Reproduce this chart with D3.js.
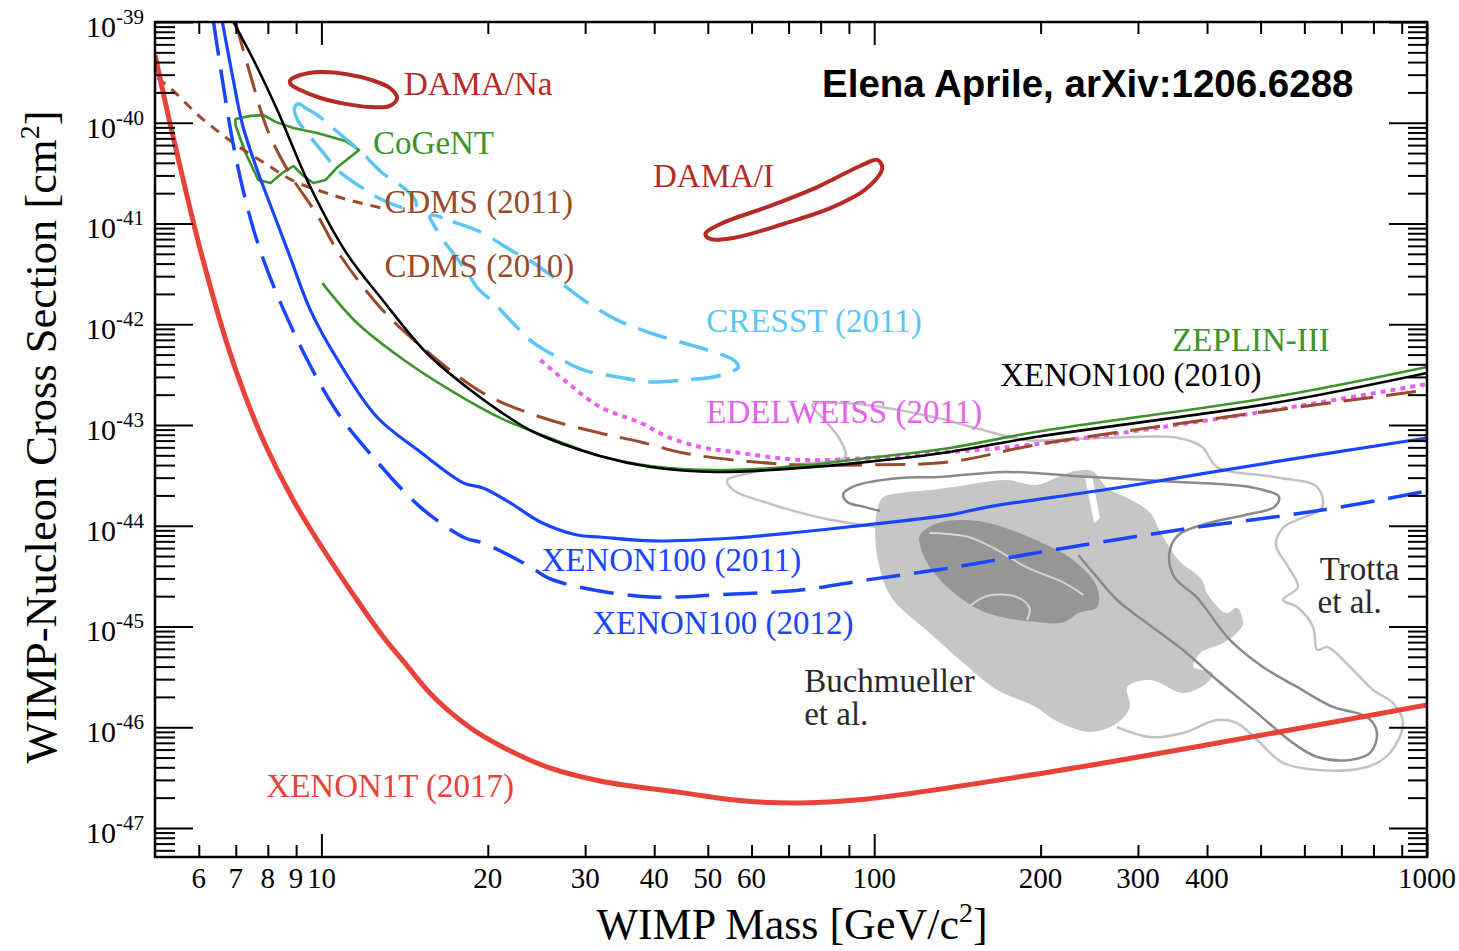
<!DOCTYPE html>
<html><head><meta charset="utf-8">
<script src="https://cdn.jsdelivr.net/npm/d3@7"></script>
<style>body{margin:0;background:#fff}svg{display:block}</style>
</head><body>
<svg id="c" width="1459" height="951"></svg>
<script>
// ---------- data: [WIMP mass (GeV), cross section (cm^2)] ----------
const xenon1t2017 = [[5.0,4.70e-40],[5.33,9.50e-41],[5.68,2.15e-41],[6.04,5.46e-42],[6.76,6.22e-43],[7.29,1.90e-43],[7.92,6.33e-44],[8.79,2.02e-44],[9.55,9.29e-45],[11.6,1.83e-45],[12.9,8.05e-46],[14.1,4.45e-46],[15.9,2.04e-46],[18.4,1.03e-46],[21.1,6.52e-47],[25.9,3.94e-47],[31.9,2.93e-47],[45.2,2.23e-47],[58.4,1.85e-47],[73.5,1.77e-47],[97.1,1.94e-47],[208,3.60e-47],[448,7.46e-47],[1000,1.66e-46]];
const xenon100_2011 = [[6.62,1.00e-39],[6.90,2.98e-40],[7.20,9.50e-41],[7.63,3.56e-41],[8.15,1.36e-41],[8.79,4.55e-42],[9.55,1.38e-42],[10.7,4.42e-43],[12.6,1.20e-43],[15.1,5.40e-44],[18.1,2.65e-44],[19.6,2.37e-44],[22.0,1.68e-44],[24.9,1.09e-44],[29.0,8.09e-45],[31.9,7.73e-45],[39.8,7.06e-45],[55.6,7.55e-45],[73.5,8.67e-45],[97.1,1.02e-44],[137,1.28e-44],[160,1.53e-44],[274,2.37e-44],[529,4.30e-44],[1000,7.43e-44]];
const xenon100_2012 = [[6.38,1.00e-39],[6.62,2.66e-40],[6.93,6.01e-41],[7.29,1.71e-41],[7.69,6.12e-42],[8.32,1.95e-42],[9.43,4.42e-43],[10.7,1.32e-43],[12.4,4.81e-44],[15.1,1.53e-44],[18.2,7.55e-45],[19.6,6.74e-45],[23.9,3.90e-45],[25.7,3.03e-45],[29.8,2.41e-45],[39.4,1.96e-45],[52.0,2.06e-45],[73.5,2.30e-45],[97.1,2.90e-45],[137,3.81e-45],[196,5.37e-45],[355,9.08e-45],[646,1.43e-44],[1000,2.21e-44]];
const xenon100_2010 = [[6.93,1.00e-39],[7.60,3.83e-40],[8.32,1.34e-40],[9.55,2.30e-41],[11.1,5.09e-42],[12.9,1.74e-42],[15.5,5.18e-43],[18.6,2.22e-43],[21.1,1.35e-43],[24.2,8.52e-44],[31.9,4.92e-44],[39.4,3.83e-44],[52.0,3.42e-44],[73.5,3.74e-44],[97.1,4.30e-44],[137,5.40e-44],[196,7.60e-44],[529,1.65e-43],[1000,3.28e-43]];
const zeplin3 = [[10.04,2.56e-42],[11.6,1.03e-42],[14.1,4.42e-43],[17.1,2.22e-43],[21.1,1.17e-43],[25.9,7.43e-44],[31.9,4.92e-44],[39.4,3.92e-44],[52.0,3.57e-44],[73.5,3.92e-44],[97.1,4.70e-44],[137,5.92e-44],[196,8.52e-44],[529,1.90e-43],[1000,3.77e-43]];
const cdms2010 = [[6.99,1.00e-39],[7.44,2.98e-40],[7.99,8.47e-41],[8.79,3.03e-41],[9.83,1.21e-41],[10.8,4.87e-42],[12.8,1.45e-42],[14.9,6.52e-43],[19.6,2.08e-43],[24.9,1.20e-43],[31.9,8.33e-44],[37.8,6.78e-44],[45.2,5.27e-44],[55.6,4.50e-44],[73.5,4.01e-44],[97.1,4.01e-44],[137,4.30e-44],[196,6.34e-44],[433,1.20e-43],[1000,2.22e-43]];
const cdms2011 = [[5.05,2.78e-40],[5.33,2.21e-40],[6.04,1.14e-40],[6.93,6.30e-41],[7.99,3.81e-41],[8.90,2.64e-41],[9.96,2.10e-41],[11.05,1.75e-41],[12.8,1.43e-41]];
const edelweiss2011 = [[24.9,4.42e-43],[27.9,2.61e-43],[31.9,1.51e-43],[37.8,1.05e-43],[42.3,7.60e-44],[48.5,6.05e-44],[55.6,5.40e-44],[73.5,4.50e-44],[97.1,4.70e-44],[127.9,5.27e-44],[169,5.92e-44],[256,7.78e-44],[529,1.41e-43],[1000,2.55e-43]];
const cogent = [[6.99,1.09e-40],[7.44,1.17e-40],[7.86,1.19e-40],[8.26,1.02e-40],[8.90,8.87e-41],[9.83,7.91e-41],[11.05,6.59e-41],[11.7,5.36e-41],[10.7,3.64e-41],[10.17,2.70e-41],[9.67,2.52e-41],[9.28,2.96e-41],[8.90,3.72e-41],[8.54,3.24e-41],[8.09,2.52e-41],[7.69,2.70e-41],[7.29,5.01e-41],[6.99,9.50e-41]];
const damaNa = [[8.79,2.66e-40],[9.16,2.98e-40],[9.96,3.19e-40],[11.05,3.05e-40],[12.3,2.66e-40],[13.3,2.21e-40],[13.7,1.76e-40],[13.3,1.47e-40],[12.3,1.43e-40],[11.05,1.54e-40],[9.96,1.76e-40],[9.16,2.11e-40],[8.79,2.42e-40]];
const damaI = [[49.5,7.87e-42],[52.7,9.89e-42],[64.1,1.46e-41],[78.9,2.30e-41],[94.3,3.72e-41],[101.3,4.27e-41],[103.4,3.56e-41],[97.1,2.25e-41],[84.3,1.46e-41],[68.5,9.89e-42],[55.6,7.18e-42],[50.5,7.02e-42]];
const cresstLow = [[8.94,1.40e-40],[9.09,1.54e-40],[9.36,1.40e-40],[9.88,1.17e-40],[10.7,8.09e-41],[11.8,5.13e-41],[12.9,3.17e-41],[14.1,2.25e-41],[14.7,1.79e-41],[14.85,1.53e-41],[14.2,1.43e-41],[12.8,1.75e-41],[11.8,2.30e-41],[10.8,3.24e-41],[10.08,5.01e-41],[9.43,7.91e-41],[9.05,1.07e-40]];
const cresstHigh = [[15.9,1.21e-41],[17.3,1.04e-41],[19.4,8.23e-42],[22.0,5.46e-42],[24.2,4.06e-42],[26.7,2.75e-42],[29.8,1.74e-42],[34.3,1.10e-42],[39.4,8.18e-43],[45.2,6.52e-43],[49.9,5.55e-43],[55.6,4.42e-43],[56.8,3.77e-43],[55.6,3.44e-43],[51.2,3.00e-43],[45.2,2.80e-43],[39.4,2.67e-43],[34.3,3.00e-43],[29.8,3.52e-43],[25.9,5.18e-43],[24.2,6.52e-43],[22.2,1.03e-42],[20.5,1.63e-42],[19.1,2.34e-42],[18.4,3.23e-42],[17.3,5.09e-42],[16.6,6.86e-42],[15.9,1.01e-41],[15.7,1.16e-41]];
const buchmueller95 = [[100.4,9.72e-45],[101.3,1.43e-44],[103.4,1.89e-44],[111.4,2.11e-44],[126,2.26e-44],[143,2.48e-44],[173,2.84e-44],[196,2.54e-44],[217,3.12e-44],[231,3.49e-44],[248,3.49e-44],[264,2.37e-44],[292,1.80e-44],[316,1.34e-44],[328,9.08e-45],[342,6.15e-45],[355,4.57e-45],[392,2.89e-45],[400,2.15e-45],[433,1.36e-45],[453,1.53e-45],[465,1.08e-45],[453,8.62e-46],[428,6.86e-46],[389,5.46e-46],[378,3.96e-46],[410,3.46e-46],[400,2.75e-46],[362,2.19e-46],[316,2.94e-46],[287,2.51e-46],[290,1.59e-46],[275,1.10e-46],[246,8.97e-47],[212,1.18e-46],[196,1.59e-46],[167,2.34e-46],[145,4.35e-46],[126,8.62e-46],[107.3,1.96e-45],[101.3,4.90e-45]];
const buchmuellerGap = [[240.8,2.98e-44],[248,3.12e-44],[256,1.19e-44],[250,1.06e-44]];
const buchmueller68 = [[121,8.09e-45],[129,1.04e-44],[143,1.14e-44],[162,1.06e-44],[196,7.22e-45],[229,4.57e-45],[253,2.47e-45],[253,1.56e-45],[234,1.36e-45],[221,1.11e-45],[196,1.11e-45],[160,1.36e-45],[139.5,2.15e-45],[126,3.90e-45],[121,6.44e-45]];
const buchmuellerInnerA = [[126,8.47e-45],[148,7.73e-45],[167,5.74e-45],[188,3.90e-45],[221,2.70e-45],[239,2.06e-45]];
const buchmuellerInnerB = [[149,1.60e-45],[160,2.01e-45],[181,1.96e-45],[191,1.53e-45],[189,1.16e-45]];
const trotta68 = [[102.5,1.40e-44],[96.3,1.53e-44],[89.4,1.72e-44],[87.9,2.07e-44],[91.2,2.42e-44],[98.4,2.72e-44],[111.4,2.98e-44],[131,3.05e-44],[173,3.42e-44],[229,3.12e-44],[355,2.72e-44],[479,2.42e-44],[540,1.93e-44],[529,1.53e-44],[469,1.28e-44],[392,1.02e-44],[355,8.09e-45],[342,5.37e-45],[349,3.10e-45],[384,1.92e-45],[440,7.35e-46],[505,3.96e-46],[582,2.51e-46],[676,1.59e-46],[779,1.26e-46],[812,8.77e-47],[789,5.55e-47],[726,4.73e-47],[633,5.07e-47],[572,6.98e-47],[493,1.38e-46],[417,2.94e-46],[362,5.85e-46],[306,1.16e-45],[275,1.83e-45],[251,3.24e-45],[234,5.13e-45]];
const trotta95 = [[101.3,9.72e-45],[90.5,1.06e-44],[78.9,1.22e-44],[64.1,1.68e-44],[55.6,2.26e-44],[54.2,2.84e-44],[58.4,3.26e-44],[73.5,4.10e-44],[88.6,4.81e-44],[86.8,7.10e-44],[82.2,1.05e-43],[77.3,1.58e-43],[86.8,1.65e-43],[97.1,1.58e-43],[127.9,1.20e-43],[157.4,8.92e-44],[188,7.10e-44],[256,7.43e-44],[355,7.43e-44],[392,6.05e-44],[417,3.83e-44],[529,3.05e-44],[633,2.42e-44],[646,1.53e-44],[551,9.72e-45],[533,6.44e-45],[561,3.90e-45],[584,2.47e-45],[549,1.83e-45],[582,1.56e-45],[622,9.89e-46],[633,5.85e-46],[660,6.26e-46],[726,3.96e-46],[799,2.34e-46],[868,1.74e-46],[905,1.10e-46],[857,5.55e-47],[779,4.03e-47],[633,3.77e-47],[549,4.42e-47],[493,7.46e-47],[453,1.10e-46],[417,1.18e-46],[362,8.77e-47],[316,8.00e-47],[275,1.00e-46]];

// ---------- ticks ----------
const xMajorTicks = [10,100,1000];
const xMinorTicks = [6,7,8,9,20,30,40,50,60,70,80,90,200,300,400,500,600,700,800,900];
const xTickLabels = [6,7,8,9,10,20,30,40,50,60,100,200,300,400,1000];
const yDecadeExponents = [-39,-40,-41,-42,-43,-44,-45,-46,-47];

// ---------- labels: [text, mass at text start, cross section at baseline, colour] ----------
const seriesLabels = [
  ["DAMA/Na", 14.1, 1.89e-40, "#b52a25"],
  ["CoGeNT", 12.4, 4.90e-41, "#3c932c"],
  ["CDMS (2011)", 13.0, 1.27e-41, "#9a4a2c"],
  ["CDMS (2010)", 13.0, 2.94e-42, "#9a4a2c"],
  ["DAMA/I", 39.8, 2.30e-41, "#b52a25"],
  ["CRESST (2011)", 49.7, 8.37e-43, "#5bc6f5"],
  ["ZEPLIN-III", 345.8, 5.43e-43, "#3c932c"],
  ["XENON100 (2010)", 169, 2.44e-43, "#000000"],
  ["EDELWEISS (2011)", 49.7, 1.05e-43, "#e860f0"],
  ["XENON100 (2011)", 25.0, 3.56e-45, "#1a45ff"],
  ["XENON100 (2012)", 30.9, 8.43e-46, "#1a45ff"],
  ["XENON1T (2017)", 7.95, 2.03e-47, "#e8433b"]
];
const textNotes = [
  ["Trotta", 640, 2.89e-45],
  ["et al.", 634, 1.36e-45],
  ["Buchmueller", 74.7, 2.24e-46],
  ["et al.", 74.7, 1.05e-46]
];

// ---------- chart ----------
const svg = d3.select("#c");
const L = 155, R = 1427, T = 22, B = 857;
const x = d3.scaleLog().domain([5, 1000]).range([L, R]);
const y = d3.scaleLog().domain([1e-39, 5.15e-48]).range([T, B]);
const SERIF = "'Liberation Serif','Times New Roman',serif";

svg.append("rect").attr("width",1459).attr("height",951).attr("fill","#fff");
svg.append("defs").append("clipPath").attr("id","clip")
  .append("rect").attr("x",L).attr("y",T).attr("width",R-L).attr("height",B-T);
const plot = svg.append("g").attr("clip-path","url(#clip)");

const smooth = d3.line().x(d=>x(d[0])).y(d=>y(d[1])).curve(d3.curveCatmullRom.alpha(0.5));
const smoothClosed = d3.line().x(d=>x(d[0])).y(d=>y(d[1])).curve(d3.curveCatmullRomClosed.alpha(0.5));
const poly = d3.line().x(d=>x(d[0])).y(d=>y(d[1])).curve(d3.curveLinearClosed);

// theory regions
plot.append("path").attr("d", smoothClosed(buchmueller95)).attr("fill","#c6c6c6");
plot.append("path").attr("d", poly(buchmuellerGap)).attr("fill","#fff");
plot.append("path").attr("d", smoothClosed(buchmueller68)).attr("fill","#969696");
plot.append("path").attr("d", smooth(buchmuellerInnerA)).attr("fill","none").attr("stroke","#d4d4d4").attr("stroke-width",2);
plot.append("path").attr("d", smooth(buchmuellerInnerB)).attr("fill","none").attr("stroke","#d4d4d4").attr("stroke-width",2);
plot.append("path").attr("d", smooth(trotta95)).attr("fill","none").attr("stroke","#c2c2c2").attr("stroke-width",2.5).attr("stroke-linejoin","round");
plot.append("path").attr("d", smooth(trotta68)).attr("fill","none").attr("stroke","#8a8a8a").attr("stroke-width",2.5).attr("stroke-linejoin","round");

// text labels
seriesLabels.forEach(([t,m,s,c]) => {
  svg.append("text").attr("x",x(m)).attr("y",y(s)).attr("fill",c)
    .attr("font-family",SERIF).attr("font-size",33).text(t);
});
textNotes.forEach(([t,m,s]) => {
  svg.append("text").attr("x",x(m)).attr("y",y(s)).attr("fill","#2a2a2a")
    .attr("font-family",SERIF).attr("font-size",33).text(t);
});

// experimental curves
const curves = [
  {d: cdms2011, c:"#9a4a2c", w:3, dash:"10,8"},
  {d: edelweiss2011, c:"#e860f0", w:4, dash:"5,5"},
  {d: cdms2010, c:"#9a4a2c", w:3, dash:"30,13"},
  {d: zeplin3, c:"#3c932c", w:2.6},
  {d: xenon100_2010, c:"#000000", w:2.6},
  {d: xenon100_2012, c:"#1a45ff", w:3.5, dash:"34,14"},
  {d: xenon100_2011, c:"#1a45ff", w:3.2},
  {d: xenon1t2017, c:"#e8433b", w:5}
];
const contours = [
  {d: cogent, c:"#3c932c", w:2.6, lin:true},
  {d: damaNa, c:"#b52a25", w:4},
  {d: damaI, c:"#b52a25", w:4},
  {d: cresstLow, c:"#5bc6f5", w:3.5, dash:"30,13"},
  {d: cresstHigh, c:"#5bc6f5", w:3.5, dash:"30,13"}
];
contours.forEach(o => {
  plot.append("path").attr("d", o.lin ? poly(o.d) : smoothClosed(o.d))
    .attr("fill","none").attr("stroke",o.c).attr("stroke-width",o.w)
    .attr("stroke-dasharray",o.dash||null).attr("stroke-linejoin","round");
});
curves.forEach(o => {
  plot.append("path").attr("d", smooth(o.d))
    .attr("fill","none").attr("stroke",o.c).attr("stroke-width",o.w)
    .attr("stroke-dasharray",o.dash||null).attr("stroke-linejoin","round");
});

// axes ticks (inside)
const yMinorTicks = [];
for (let k = -48; k <= -40; k++) for (let m = 2; m <= 9; m++) {
  const v = m * Math.pow(10, k);
  if (v < 1e-39 && v > 5.15e-48) yMinorTicks.push(v);
}
const yMajorTicks = yDecadeExponents.map(k => Math.pow(10, k));
function tickGroup(gen, vals, size, tr) {
  const g = svg.append("g").attr("transform", tr)
    .call(gen.tickValues(vals).tickSize(size).tickFormat(""));
  g.select(".domain").remove();
  g.selectAll("line").attr("stroke","#000").attr("stroke-width",2);
}
tickGroup(d3.axisBottom(x), xMinorTicks, -12, `translate(0,${B})`);
tickGroup(d3.axisBottom(x), xMajorTicks, -23, `translate(0,${B})`);
tickGroup(d3.axisTop(x), xMinorTicks, -12, `translate(0,${T})`);
tickGroup(d3.axisTop(x), xMajorTicks, -23, `translate(0,${T})`);
tickGroup(d3.axisLeft(y), yMinorTicks, -20, `translate(${L},0)`);
tickGroup(d3.axisLeft(y), yMajorTicks, -38, `translate(${L},0)`);
tickGroup(d3.axisRight(y), yMinorTicks, -19, `translate(${R},0)`);
tickGroup(d3.axisRight(y), yMajorTicks, -38, `translate(${R},0)`);

svg.append("rect").attr("x",L).attr("y",T).attr("width",R-L).attr("height",B-T)
  .attr("fill","none").attr("stroke","#000").attr("stroke-width",2.5);

// tick labels
xTickLabels.forEach(v => {
  svg.append("text").attr("x",x(v)).attr("y",B+31).attr("text-anchor","middle")
    .attr("font-family",SERIF).attr("font-size",29).attr("fill","#000").text(v);
});
yDecadeExponents.forEach(k => {
  const t = svg.append("text").attr("x",144).attr("y",y(Math.pow(10,k))+15)
    .attr("text-anchor","end").attr("font-family",SERIF).attr("font-size",30).attr("fill","#000");
  t.append("tspan").text("10");
  t.append("tspan").attr("dy",-13).attr("font-size",21).text(String(k));
});

// axis titles
const xt = svg.append("text").attr("x",792).attr("y",939).attr("text-anchor","middle")
  .attr("font-family",SERIF).attr("font-size",44).attr("fill","#000");
xt.append("tspan").text("WIMP Mass [GeV/c");
xt.append("tspan").attr("dy",-17).attr("font-size",28).text("2");
xt.append("tspan").attr("dy",17).text("]");

const yt = svg.append("text").attr("transform","translate(56,437) rotate(-90)").attr("text-anchor","middle")
  .attr("font-family",SERIF).attr("font-size",44.5).attr("fill","#000");
yt.append("tspan").text("WIMP-Nucleon Cross Section [cm");
yt.append("tspan").attr("dy",-17).attr("font-size",28).text("2");
yt.append("tspan").attr("dy",17).text("]");

// annotation
svg.append("text").attr("x",822).attr("y",97)
  .attr("font-family","'Liberation Sans',Arial,sans-serif").attr("font-weight","bold")
  .attr("font-size",38.5).attr("fill","#000").text("Elena Aprile, arXiv:1206.6288");
</script>
</body></html>
